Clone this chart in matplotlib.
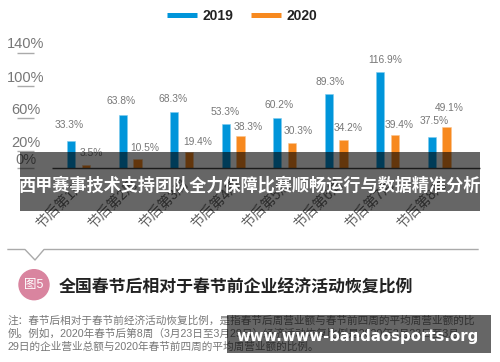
import matplotlib
matplotlib.use('Agg')
import matplotlib.pyplot as plt
import matplotlib.patches as mpatches
from matplotlib.lines import Line2D
import numpy as np

plt.rcParams['font.family'] = ['Liberation Sans', 'Noto Sans CJK SC', 'DejaVu Sans']

# dati
weeks = ['节后第1周', '节后第2周', '节后第3周', '节后第4周', '节后第5周', '节后第6周', '节后第7周', '节后第8周']
values_2019 = [33.3, 63.8, 68.3, 53.3, 60.2, 89.3, 116.9, 37.5]
values_2020 = [3.5, 10.5, 19.4, 38.3, 30.3, 34.2, 39.4, 49.1]
y_ticks = [0, 20, 60, 100, 140]
y_tick_labels = ['0%', '20%', '60%', '100%', '140%']
banner_title = '西甲赛事技术支持团队全力保障比赛顺畅运行与数据精准分析'
figure_title = '全国春节后相对于春节前企业经济活动恢复比例'
note_lines = ['注：春节后相对于春节前经济活动恢复比例，是指春节后周营业额与春节前四周的平均周营业额的比',
              '例。例如，2020年春节后第8周（3月23日至3月29日）经济活动恢复比例是2020年3月23日至3月',
              '29日的企业营业总额与2020年春节前四周的平均周营业额的比例。']
site_text = 'www.www-bandaosports.org'

color_2019 = '#0095DA'
color_2020 = '#F7891F'
W, H = 500, 362


def fx(x):
    return x / W


def fy(y):
    return 1 - y / H


fig = plt.figure(figsize=(5, 3.62), dpi=100)
ax = fig.add_axes([fx(34), fy(168), fx(480 - 34), (168 - 52.5) / H])

x = np.arange(len(weeks))
bars_2019 = ax.bar(x - 0.143, values_2019, width=0.157, color=color_2019, edgecolor='#7CCBEF', linewidth=0.4)
bars_2020 = ax.bar(x + 0.143, values_2020, width=0.157, color=color_2020, edgecolor='#FBC48F', linewidth=0.4)

ax.set_xlim(-0.866, 7.794)
ax.set_ylim(0, 140)
for s in ax.spines.values():
    s.set_visible(False)
ax.hlines(0, -0.516, 7.794, color='#444444', lw=1, clip_on=False, zorder=3)

ax.set_yticks(y_ticks)
ax.set_yticklabels([])
ax.tick_params(axis='y', length=12.2, width=1, color='#AAAAAA')
for v, lab in zip(y_ticks, y_tick_labels):
    ax.annotate(lab, xy=(0, v), xycoords=ax.get_yaxis_transform(), xytext=(-8, 8),
                textcoords='offset pixels', ha='center', va='center', fontsize=10.5, color='#777777',
                annotation_clip=False)

ax.set_xticks(x)
ax.set_xticklabels(weeks, rotation=45, ha='right', va='top', rotation_mode='anchor',
                   fontsize=10, color='#666666')
ax.tick_params(axis='x', length=0, pad=6)

# etichette spostate a mano come nell'originale (dx, dy in pixel dal centro-cima della barra)
offsets_2019 = [(-2, 15.5), (-2, 14.4), (-1, 12.7), (-0.5, 12), (1.7, 13.3), (1, 12.3), (5, 11.6), (2, 16.3)]
offsets_2020 = [(5, 12.4), (7.7, 11), (8.7, 10), (8.2, 9.4), (6, 12), (4.7, 11.8), (4.3, 10.5), (3, 19.5)]
for bars, vals, offs in [(bars_2019, values_2019, offsets_2019), (bars_2020, values_2020, offsets_2020)]:
    for b, v, o in zip(bars, vals, offs):
        ax.annotate(f'{v}%', xy=(b.get_x() + b.get_width() / 2, v), xytext=o, textcoords='offset pixels',
                    ha='center', va='center', fontsize=7.4, color='#777777', annotation_clip=False)

# legenda
handles = [Line2D([], [], color=color_2019, lw=3.6, solid_capstyle='butt', label='2019'),
           Line2D([], [], color=color_2020, lw=3.6, solid_capstyle='butt', label='2020')]
fig.legend(handles=handles, loc='center left', bbox_to_anchor=(fx(167), fy(16)), ncols=2, frameon=False,
           borderpad=0, borderaxespad=0, handlelength=2.16, handletextpad=0.42, columnspacing=1.25,
           labelcolor='#222222', prop={'weight': 'bold', 'size': 10})

# linea con tacca e titolo della figura
fig.add_artist(Line2D([fx(8), fx(25), fx(35), fx(44), fx(478)],
                      [fy(249.5), fy(249.5), fy(260), fy(249.5), fy(249.5)],
                      color='#AAAAAA', lw=1, transform=fig.transFigure))
fig.add_artist(mpatches.Ellipse((fx(34), fy(284.7)), 30 / W, 30 / H, color='#D9849F', transform=fig.transFigure))
fig.text(fx(34), fy(284.7), '图5', color='white', fontsize=9, ha='center', va='center')
fig.text(fx(59), fy(287.3), figure_title, fontsize=12.2, fontweight='bold', color='#222222', va='center')
for line, y in zip(note_lines, [321, 333.5, 346.7]):
    fig.text(fx(8), fy(y), line, fontsize=7.65, color='#777777', va='center')

# fasce scure sopra il grafico
fig.add_artist(mpatches.Rectangle((fx(20), fy(211)), 460 / W, 59 / H, color='black', alpha=0.6, lw=0,
                                  transform=fig.transFigure, zorder=5))
fig.text(fx(249.5), fy(185), banner_title, fontsize=12.3, fontweight='bold', color='white',
         ha='center', va='center', zorder=6)
fig.add_artist(mpatches.Rectangle((fx(227), fy(352.7)), 264 / W, 37.7 / H, color='black', alpha=0.6, lw=0,
                                  transform=fig.transFigure, zorder=5))
fig.text(fx(358), fy(336.5), site_text, fontsize=10.7, fontweight='bold', color='white', family='DejaVu Sans',
         ha='center', va='center', zorder=6)

fig.savefig('out.png', dpi=100)
